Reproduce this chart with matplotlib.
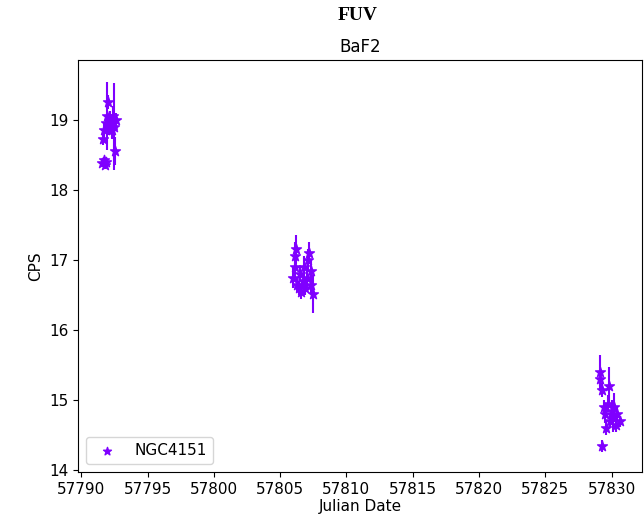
import matplotlib
matplotlib.use("Agg")
import matplotlib.pyplot as plt

# Cluster 1
x1 = [57791.6, 57791.7, 57791.8, 57791.9, 57791.65, 57791.75, 57791.85, 57791.95,
      57792.0, 57792.1, 57792.2, 57792.3, 57792.4, 57792.5, 57792.55, 57792.6]
y1 = [18.38, 18.42, 18.35, 18.40, 18.72, 18.85, 18.95, 19.05,
      19.25, 18.90, 19.00, 18.85, 19.05, 18.90, 18.55, 19.00]
e1 = [0.05, 0.05, 0.05, 0.06, 0.08, 0.10, 0.10, 0.48,
      0.10, 0.12, 0.12, 0.12, 0.15, 0.62, 0.20, 0.10]
# Cluster 2
x2 = [57806.0, 57806.1, 57806.15, 57806.2, 57806.3, 57806.4, 57806.5, 57806.6,
      57806.7, 57806.8, 57806.9, 57807.0, 57807.1, 57807.2, 57807.3, 57807.35, 57807.5]
y2 = [16.75, 17.05, 16.90, 17.15, 16.65, 16.60, 16.80, 16.55,
      16.70, 16.90, 16.60, 16.75, 17.00, 17.10, 16.85, 16.65, 16.52]
e2 = [0.15, 0.20, 0.15, 0.20, 0.10, 0.10, 0.10, 0.10,
      0.12, 0.15, 0.10, 0.15, 0.15, 0.15, 0.15, 0.12, 0.27]
# Cluster 3
x3 = [57829.1, 57829.15, 57829.25, 57829.3, 57829.4, 57829.5, 57829.6, 57829.7,
      57829.8, 57829.9, 57830.0, 57830.1, 57830.2, 57830.3, 57830.4, 57830.6]
y3 = [15.40, 15.30, 15.15, 14.35, 14.90, 14.80, 14.60, 14.95,
      15.20, 14.70, 14.85, 14.75, 14.90, 14.65, 14.80, 14.70]
e3 = [0.25, 0.10, 0.10, 0.08, 0.10, 0.12, 0.10, 0.12,
      0.28, 0.10, 0.15, 0.20, 0.20, 0.10, 0.10, 0.08]

xs = x1 + x2 + x3
ys = y1 + y2 + y3
es = e1 + e2 + e3

color = '#7f00ff'
plt.rcParams['font.size'] = 11

fig = plt.figure(figsize=(6.44, 5.22), dpi=100)
ax = fig.add_axes([0.121, 0.096, 0.876, 0.789])
ax.errorbar(xs, ys, yerr=es, fmt='none', ecolor=color, elinewidth=1.5)
ax.scatter(xs, ys, marker='*', s=55, color=color, label='NGC4151', zorder=3)
ax.set_xlim(57789.75, 57832.3)
ax.set_ylim(13.98, 19.85)
ax.set_xticks([57790, 57795, 57800, 57805, 57810, 57815, 57820, 57825, 57830])
ax.set_xticklabels(['57790', '57795', '57800', '57805', '57810', '57815', '57820', '57825', '57830'])
ax.set_yticks([14, 15, 16, 17, 18, 19])
ax.set_yticklabels(['14', '15', '16', '17', '18', '19'])
ax.set_xlabel('Julian Date', labelpad=2)
ax.set_ylabel('CPS')
ax.set_title('BaF2', fontsize=12)
ax.legend(loc='lower left', markerscale=0.8)
fig.text(0.556, 0.97, 'FUV', ha='center', va='center', fontsize=14,
         fontweight='bold', family='Liberation Serif')
fig.savefig('out.png', dpi=100)
